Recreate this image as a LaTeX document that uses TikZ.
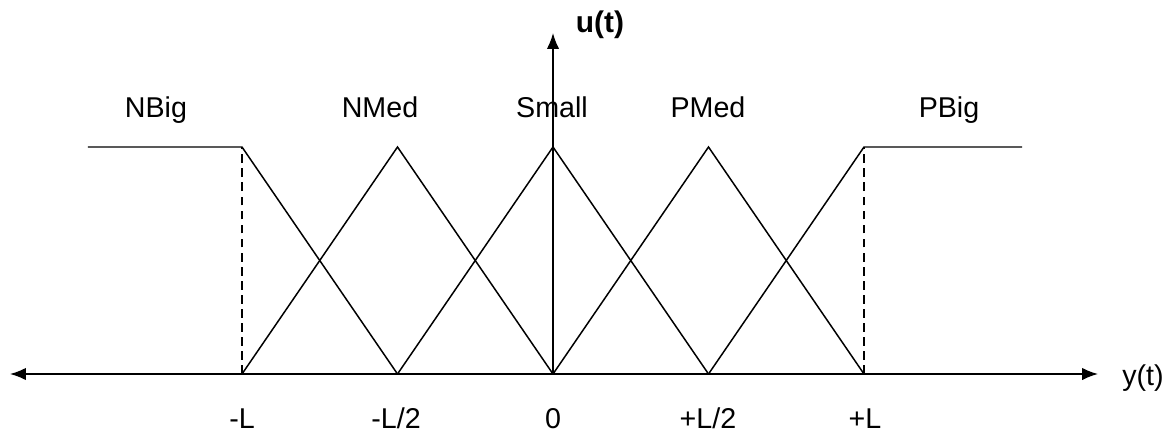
\documentclass[tikz,border=0pt]{standalone}
\usepackage{fontspec}
\setmainfont{Liberation Sans}
\usetikzlibrary{arrows.meta}
\tikzset{
	memb/.style={line width=0.85pt, line join=miter},
	axisline/.style={line width=0.9pt, {Latex[length=9pt,width=7pt]}-{Latex[length=9pt,width=7pt]}},
	lbl/.style={font=\fontsize{16.3}{19}\selectfont, inner sep=0pt, anchor=base}
}

\begin{document}
\begin{tikzpicture}
			%%%%% START %%%%%
			\useasboundingbox (-11.06, -1.18) rectangle (12.42, 7.48);
			
			\coordinate (nl) at (-6.22, 0);
			\coordinate (nh) at (-3.11, 0);
			\coordinate (z) at (0, 0);
			\coordinate (ph) at (3.11, 0);
			\coordinate (pl) at (6.22, 0);
			\coordinate (nltop) at (-6.22, 4.54);
			\coordinate (pltop) at (6.22, 4.54);
			
			% axes
			\draw[axisline] (-10.86, 0) -- (10.9, 0);
			\draw[line width=0.9pt, -{Latex[length=9pt,width=7pt]}] (z) -- (0, 6.82);
			\node[font=\fontsize{17}{20}\selectfont\bfseries, inner sep=0pt] (ut) at (0.94, 6.98) {u(t)};
			\node[font=\fontsize{16.3}{19}\selectfont, inner sep=0pt] (yt) at (11.8, -0.08) {y(t)};
			
			% membership functions
			\draw[memb] (-9.3, 4.54) -- (nltop) -- (nh);
			\draw[memb] (nl) -- (-3.11, 4.54) -- (z);
			\draw[memb] (nh) -- (0, 4.54) -- (ph);
			\draw[memb] (z) -- (3.11, 4.54) -- (pl);
			\draw[memb] (ph) -- (pltop) -- (9.38, 4.54);
			
			\draw[line width=0.85pt, dash pattern=on 5pt off 3pt] (nl) -- (nltop);
			\draw[line width=0.85pt, dash pattern=on 5pt off 3pt] (pl) -- (pltop);
			
			% set names
			\node[lbl] (nbig) at (-7.94, 5.12) {NBig};
			\node[lbl] (nmed) at (-3.46, 5.12) {NMed};
			\node[lbl] (small) at (-0.02, 5.12) {Small};
			\node[lbl] (pmed) at (3.1, 5.12) {PMed};
			\node[lbl] (pbig) at (7.92, 5.12) {PBig};
			
			% ticks
			\node[lbl] (tnl) at (-6.22, -1.08) {-L};
			\node[lbl] (tnh) at (-3.14, -1.08) {-L/2};
			\node[lbl] (tz) at (0, -1.08) {0};
			\node[lbl] (tph) at (3.1, -1.08) {+L/2};
			\node[lbl] (tpl) at (6.24, -1.08) {+L};
			%%%%% END %%%%%
\end{tikzpicture}
\end{document}
